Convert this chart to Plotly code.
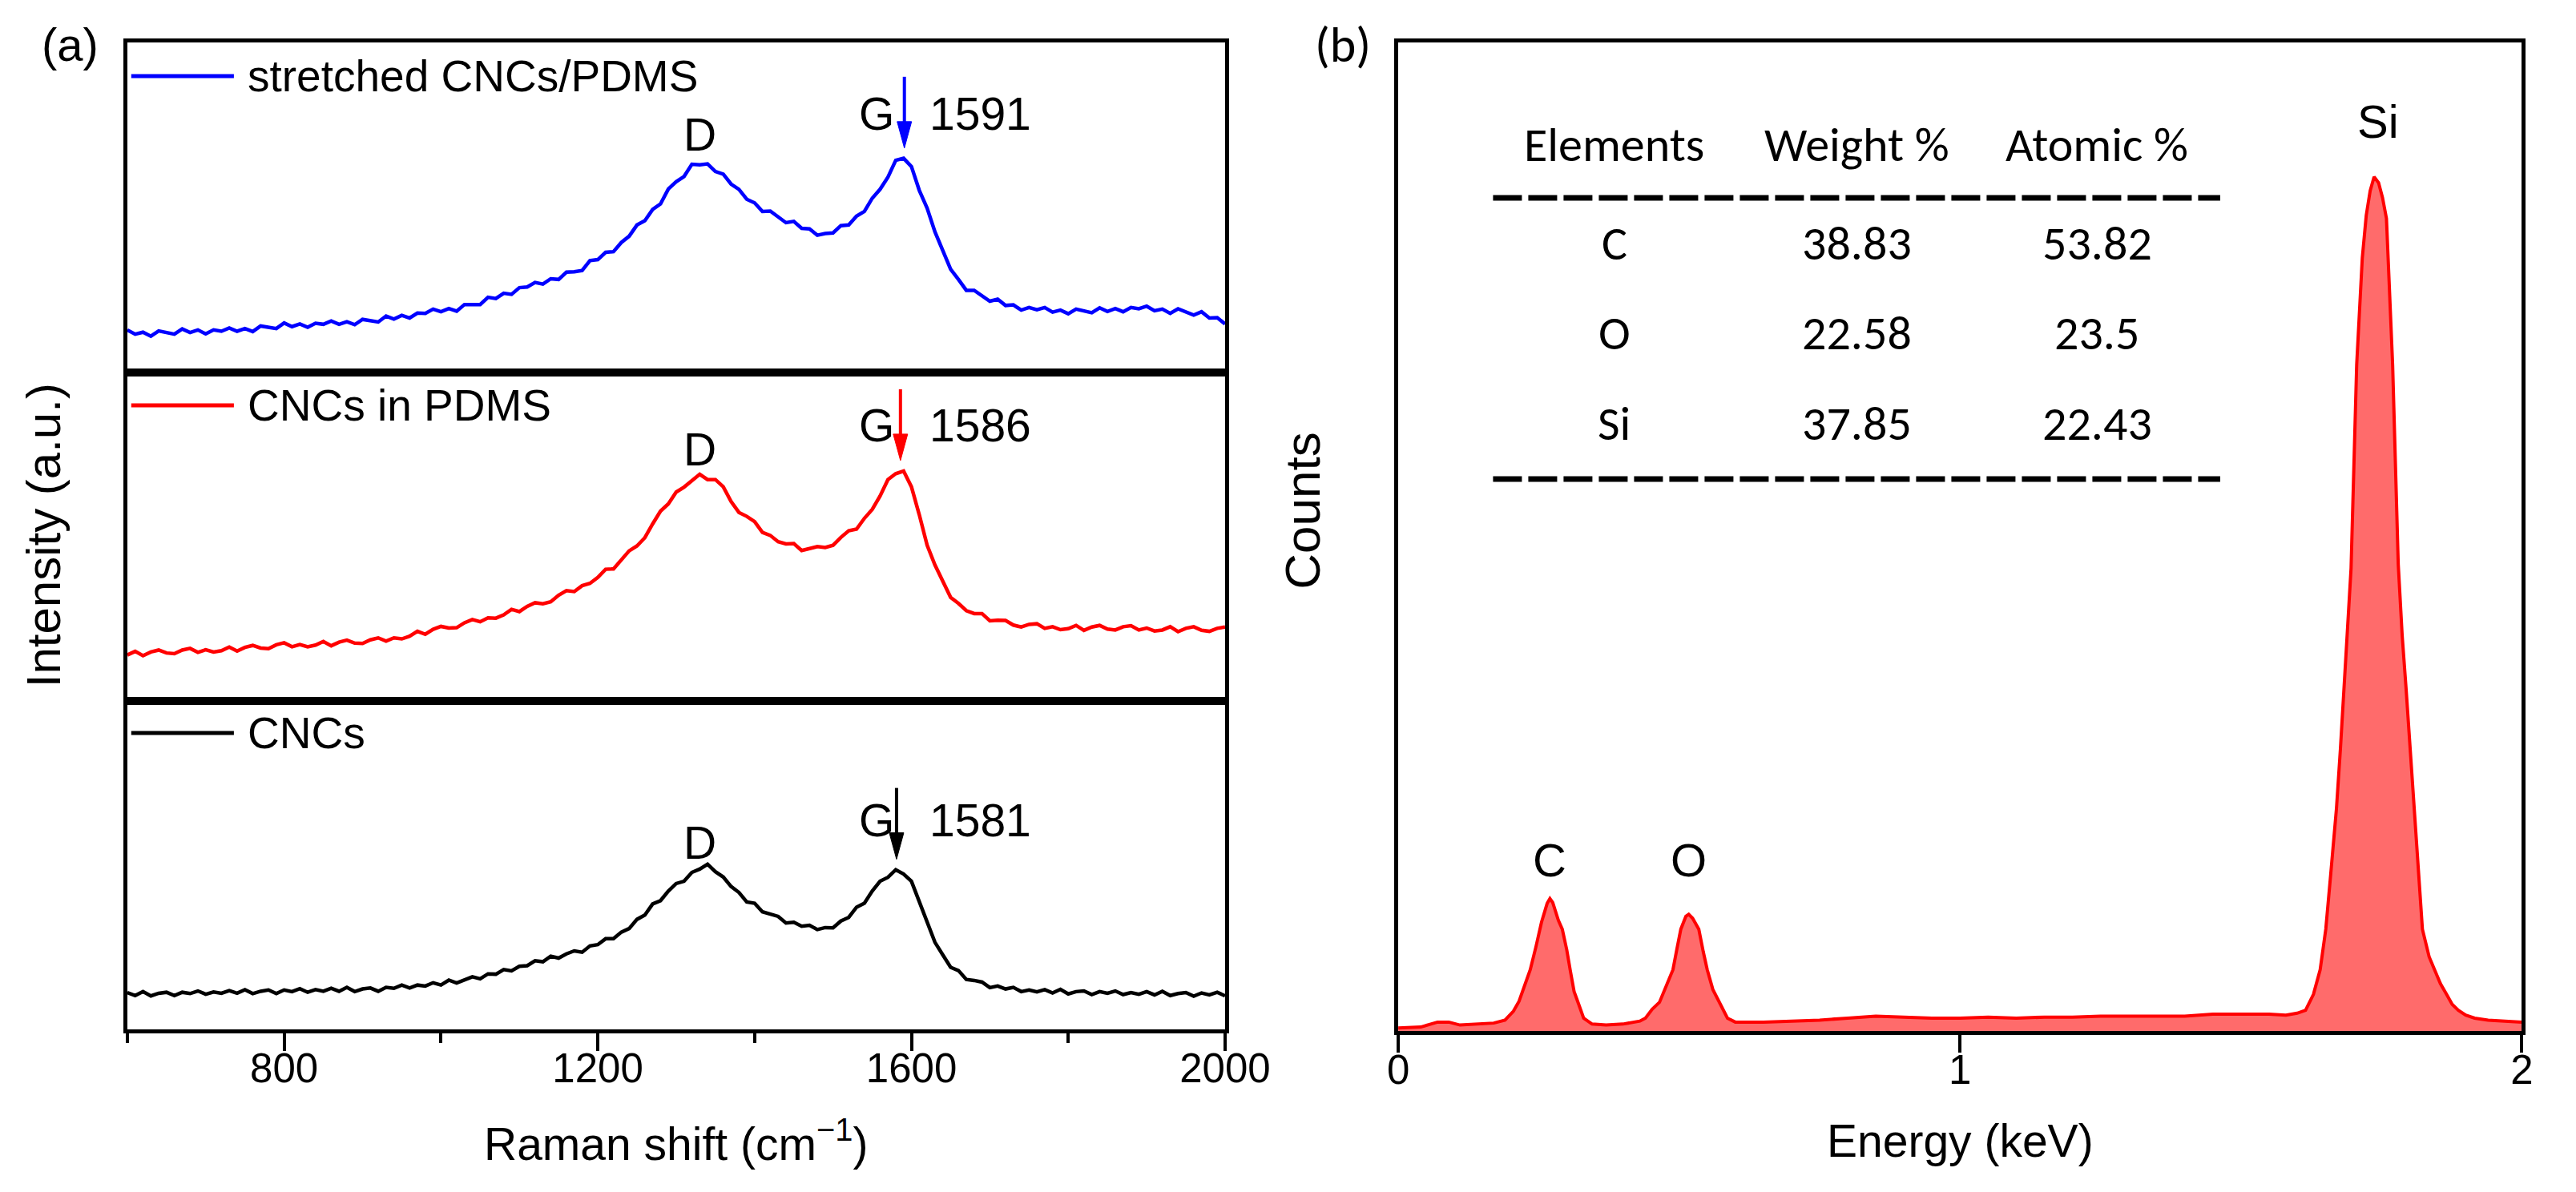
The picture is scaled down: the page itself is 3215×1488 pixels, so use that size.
import plotly.graph_objects as go

W, H = 3215, 1488
ARIAL = "Arial, Liberation Sans, sans-serif"
CALIBRI = "Calibri, Carlito, Lato, sans-serif"

# ---- data: Raman spectra (a), normalised per panel ----
raman_shift = list(range(600, 2001, 10))

stretched_cncs_pdms = [
    .129, .116, .122, .110, .126, .121, .116, .132, .121, .129, .117, .129, .125, .135, .125,
    .133, .124, .141, .137, .133, .150, .139, .147, .137, .149, .146, .156, .146, .154, .145,
    .161, .157, .153, .171, .162, .173, .165, .180, .179, .192, .184, .194, .186, .206, .206,
    .206, .228, .224, .240, .237, .257, .259, .273, .268, .284, .282, .304, .305, .309, .339,
    .342, .364, .366, .394, .413, .447, .460, .494, .511, .556, .578, .594, .631, .629, .632,
    .609, .601, .571, .555, .525, .514, .488, .489, .470, .454, .458, .437, .435, .416, .421,
    .423, .445, .447, .474, .488, .528, .555, .592, .643, .649, .624, .552, .498, .426, .369,
    .313, .282, .249, .249, .232, .216, .222, .203, .205, .189, .197, .190, .197, .183, .189,
    .178, .192, .186, .181, .196, .185, .194, .184, .197, .193, .201, .187, .192, .179, .193,
    .184, .174, .184, .165, .166, .147,
]

cncs_in_pdms = [
    .140, .151, .138, .149, .155, .146, .144, .155, .160, .148, .156, .149, .153, .164, .152,
    .163, .169, .161, .159, .171, .177, .165, .172, .165, .170, .181, .168, .179, .185, .176,
    .175, .186, .192, .182, .192, .189, .197, .212, .203, .218, .227, .222, .223, .238, .248,
    .241, .253, .252, .262, .279, .272, .288, .299, .296, .302, .322, .336, .333, .351, .358,
    .376, .401, .402, .430, .457, .472, .497, .539, .578, .600, .636, .651, .672, .690, .674,
    .674, .652, .607, .574, .562, .546, .513, .504, .485, .478, .479, .458, .463, .470, .467,
    .474, .498, .518, .523, .556, .583, .624, .674, .692, .700, .652, .567, .474, .414, .363,
    .315, .297, .275, .266, .266, .244, .246, .245, .231, .225, .233, .235, .221, .226, .217,
    .220, .230, .215, .225, .230, .219, .216, .226, .229, .216, .222, .213, .216, .226, .211,
    .221, .226, .215, .212, .221, .225,
]

cncs = [
    .112, .103, .115, .102, .110, .113, .103, .113, .109, .117, .107, .114, .110, .118, .110,
    .121, .109, .116, .120, .109, .120, .115, .124, .113, .121, .116, .125, .116, .128, .115,
    .123, .126, .116, .128, .125, .135, .126, .135, .132, .142, .135, .150, .141, .152, .160,
    .154, .169, .168, .182, .178, .192, .194, .209, .206, .223, .217, .230, .239, .235, .254,
    .258, .276, .276, .296, .307, .335, .348, .382, .392, .421, .444, .451, .478, .488, .503,
    .480, .464, .435, .417, .388, .384, .358, .351, .344, .324, .326, .314, .317, .304, .310,
    .309, .330, .341, .372, .384, .421, .451, .463, .486, .473, .451, .390, .332, .265, .227,
    .189, .179, .152, .149, .144, .127, .132, .123, .128, .115, .120, .114, .121, .111, .122,
    .108, .115, .117, .106, .115, .110, .117, .106, .112, .107, .115, .105, .116, .103, .109,
    .112, .101, .111, .105, .113, .102,
]

series_names = ["stretched CNCs/PDMS", "CNCs in PDMS", "CNCs"]
series_colors = ["#0000FF", "#FF0000", "#000000"]
g_peak = [1591, 1586, 1581]

# ---- data: EDS spectrum (b) ----
eds_energy = [
    0.00, 0.04, 0.07, 0.09, 0.11, 0.14, 0.17, 0.19, 0.205, 0.215, 0.225, 0.235, 0.245, 0.255,
    0.265, 0.27, 0.275, 0.285, 0.292, 0.30, 0.306, 0.313, 0.32, 0.33, 0.345, 0.37, 0.40, 0.43,
    0.44, 0.452, 0.465, 0.477, 0.489, 0.496, 0.503, 0.512, 0.517, 0.524, 0.535, 0.543, 0.55,
    0.56, 0.572, 0.586, 0.60, 0.65, 0.70, 0.75, 0.80, 0.85, 0.90, 0.95, 1.00, 1.05, 1.10,
    1.15, 1.20, 1.25, 1.30, 1.35, 1.40, 1.45, 1.50, 1.55, 1.58, 1.60, 1.615, 1.629, 1.641,
    1.651, 1.66, 1.67, 1.677, 1.684, 1.69, 1.696, 1.706, 1.716, 1.723, 1.73, 1.737, 1.745,
    1.752, 1.759, 1.762, 1.77, 1.78, 1.787, 1.794, 1.801, 1.808, 1.816, 1.823, 1.835, 1.844,
    1.855, 1.866, 1.876, 1.887, 1.90, 1.916, 1.94, 1.97, 2.00,
]
eds_counts = [
    0.3, 0.4, 0.9, 0.9, 0.6, 0.7, 0.8, 1.1, 2.0, 3.0, 4.5, 6.2, 8.5, 11.0,
    12.9, 13.4, 13.0, 11.2, 10.3, 8.2, 6.2, 4.0, 2.9, 1.3, 0.7, 0.6, 0.7, 1.0,
    1.3, 2.2, 2.9, 4.6, 6.2, 8.3, 10.3, 11.6, 11.8, 11.4, 10.3, 8.0, 6.2,
    4.2, 2.9, 1.3, 0.9, 0.9, 1.0, 1.1, 1.3, 1.5, 1.4, 1.3, 1.3, 1.4, 1.3,
    1.4, 1.4, 1.5, 1.5, 1.5, 1.5, 1.7, 1.7, 1.7, 1.6, 1.8, 2.1, 3.7, 6.2,
    10.3, 16.0, 22.5, 28.5, 34.6, 41.0, 46.8, 67.4, 78.2, 82.5, 85.0, 86.4, 85.8,
    84.3, 82.2, 78.2, 67.4, 47.2, 40.0, 34.6, 28.5, 22.5, 16.0, 10.3, 7.5, 6.2,
    4.8, 3.7, 2.7, 2.1, 1.6, 1.3, 1.1, 1.0, 0.9,
]
eds_peaks = ["C", "O", "Si"]
eds_peak_energy = [0.27, 0.517, 1.744]

table_header = ["Elements", "Weight %", "Atomic %"]
table_elements = ["C", "O", "Si"]
table_weight = ["38.83", "22.58", "37.85"]
table_atomic = ["53.82", "23.5", "22.43"]


def px(x):
    return x / W


def py(y):
    return 1 - y / H


# panel geometry (pixels in the 3215x1488 canvas)
A_X = [px(140), px(1541)]
A_ROWS = [(45, 457), (457, 867), (867, 1277)]  # top, middle, bottom
B_X = [px(1762), px(3196)]
B_Y = [py(1279), py(45)]

fig = go.Figure()

# Raman traces: top=x3/y3, middle=x2/y2, bottom=x/y
axis_ids = ["3", "2", ""]
spectra = [stretched_cncs_pdms, cncs_in_pdms, cncs]
for name, vals, color, aid in zip(series_names, spectra, series_colors, axis_ids):
    fig.add_trace(go.Scatter(
        x=raman_shift, y=vals, mode="lines", name=name,
        line=dict(color=color, width=4.5),
        xaxis="x" + aid, yaxis="y" + aid, showlegend=False,
    ))

fig.add_trace(go.Scatter(
    x=eds_energy, y=eds_counts, mode="lines", fill="tozeroy",
    line=dict(color="#FF0000", width=4), fillcolor="rgba(255,0,0,0.58)",
    xaxis="x4", yaxis="y4", showlegend=False,
))

frame = dict(showline=True, linewidth=5, linecolor="black", mirror=True,
             showgrid=False, zeroline=False)
layout = dict(
    width=W, height=H, margin=dict(l=0, r=0, t=0, b=0),
    paper_bgcolor="white", plot_bgcolor="white",
    font=dict(family=ARIAL, color="black"),
)
for aid, (top, bottom) in zip(axis_ids, A_ROWS):
    xa = dict(frame, domain=A_X, range=[600, 2000], anchor="y" + aid,
              showticklabels=False, ticks="")
    if aid == "":
        xa.update(ticks="outside", ticklen=22, tickwidth=4, tickcolor="black",
                  showticklabels=True, tick0=0, dtick=400, ticklabelstandoff=-22,
                  tickfont=dict(size=51, family=ARIAL),
                  minor=dict(ticks="outside", ticklen=12, tickwidth=4,
                             tickcolor="black", tick0=0, dtick=200))
    layout["xaxis" + aid] = xa
    layout["yaxis" + aid] = dict(frame, domain=[py(bottom), py(top)], range=[0, 1],
                                 anchor="x" + aid, showticklabels=False, ticks="")

layout["xaxis4"] = dict(frame, domain=B_X, range=[0, 2], anchor="y4",
                        ticks="outside", ticklen=22, tickwidth=4, tickcolor="black",
                        dtick=1, ticklabelstandoff=-22,
                        tickfont=dict(size=51, family=ARIAL))
layout["yaxis4"] = dict(frame, domain=B_Y, range=[0, 100], anchor="x4",
                        showticklabels=False, ticks="")
fig.update_layout(**layout)

ann = []
shapes = []


def text(x, y, s, size=57, family=ARIAL, xref="paper", yref="paper",
         xanchor="center", **kw):
    ann.append(dict(x=x, y=y, text=s, xref=xref, yref=yref, showarrow=False,
                    xanchor=xanchor, yanchor="middle",
                    font=dict(size=size, family=family, color="black"), **kw))


# panel letters and axis titles
text(px(67), py(48), "(a)", size=58)
text(px(1691), py(48), "(b)", size=62, family=CALIBRI)
text(px(33), py(660), "Intensity (a.u.)", size=60, textangle=-90)
text(px(1640), py(630), "Counts", size=62, textangle=-90)
text(px(840), py(1416), "Raman shift (cm<sup>\u22121</sup>)", size=57)
text(px(2479), py(1416), "Energy (keV)", size=57)

# panel (a) legends, peak labels and arrows
legend_y = [87, 498, 907]
d_y = [0.722, 0.765, 0.568]
g_y = [0.785, 0.838, 0.636]
tip_y = [0.680, 0.732, 0.518]
for i, aid in enumerate(axis_ids):
    shapes.append(dict(type="line", xref="paper", yref="paper",
                       x0=px(145), x1=px(276), y0=py(legend_y[i]), y1=py(legend_y[i]),
                       line=dict(color=series_colors[i], width=5)))
    text(px(291), py(legend_y[i]), series_names[i], size=55, xanchor="left")
    xr, yr = "x" + aid, "y" + aid
    text(1330, d_y[i], "D", xref=xr, yref=yr)
    text(1556, g_y[i], "G", xref=xr, yref=yr)
    text(1688, g_y[i], str(g_peak[i]), xref=xr, yref=yr)
    # arrow: shaft + filled head, sized in pixels above the peak tip
    c = series_colors[i]
    shapes.append(dict(type="line", xref=xr, yref=yr,
                       xsizemode="pixel", ysizemode="pixel",
                       xanchor=g_peak[i], yanchor=tip_y[i],
                       x0=0, x1=0, y0=28, y1=89, line=dict(color=c, width=4)))
    shapes.append(dict(type="path", xref=xr, yref=yr,
                       xsizemode="pixel", ysizemode="pixel",
                       xanchor=g_peak[i], yanchor=tip_y[i],
                       path="M 0,0 L -9,33 L 9,33 Z",
                       fillcolor=c, line=dict(color=c, width=1)))

# panel (b) peak labels
peak_label_y = [17.3, 17.3, 92.0]
for name, e, yv in zip(eds_peaks, eds_peak_energy, peak_label_y):
    text(e, yv, name, size=58, xref="x4", yref="y4")

# panel (b) composition table
col_x = [2038, 2347, 2654]
row_y = [295, 408, 520]
for cx, h in zip(col_x, table_header):
    text(px(cx), py(172), h, size=60, family=CALIBRI)
for ry, el, wt, at in zip(row_y, table_elements, table_weight, table_atomic):
    for cx, s in zip(col_x, [el, wt, at]):
        text(px(cx), py(ry), s, size=60, family=CALIBRI)
for ly in [239, 590]:
    shapes.append(dict(type="line", xref="paper", yref="paper",
                       x0=px(1883), x1=px(2811), y0=py(ly), y1=py(ly),
                       line=dict(color="black", width=7, dash="36px,8px")))

fig.update_layout(annotations=ann, shapes=shapes)
fig.write_html("out.html")
